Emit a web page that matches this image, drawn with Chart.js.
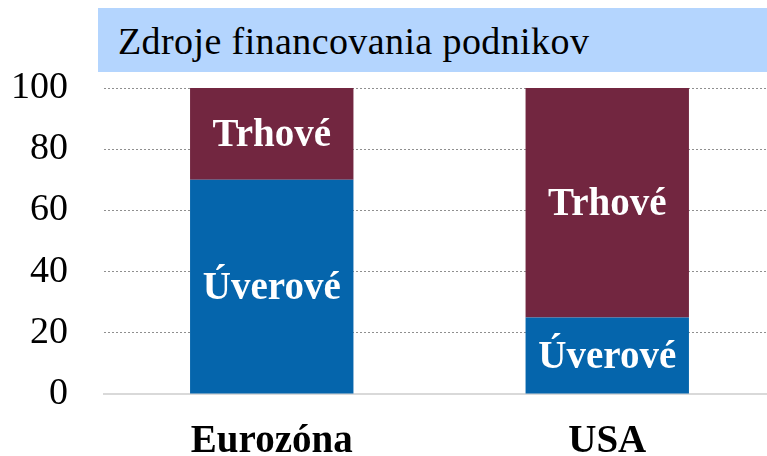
<!DOCTYPE html>
<html lang="sk">
<head>
<meta charset="utf-8">
<title>Zdroje financovania podnikov</title>
<script src="https://cdn.jsdelivr.net/npm/chart.js@4/dist/chart.umd.min.js"></script>
<style>
  html, body {
    margin: 0;
    padding: 0;
    background: #ffffff;
    overflow: hidden;
  }
  #wrap {
    position: relative;
    width: 767px;
    height: 456px;
    overflow: hidden;
  }
  #title-box {
    position: absolute;
    left: 98px;
    top: 8px;
    width: 669px;
    height: 64px;
    background: #b4d5fe;
    font-family: "Liberation Serif", serif;
    font-size: 38px;
    letter-spacing: 0.4px;
    line-height: 66px;
    padding-left: 20px;
    box-sizing: border-box;
    color: #000000;
    z-index: 2;
  }
  #my-chart {
    position: absolute;
    left: 0;
    top: 0;
  }
</style>
</head>
<body>
<div id="wrap">
  <div id="title-box">Zdroje financovania podnikov</div>
  <canvas id="my-chart" width="775" height="456"></canvas>
</div>
<script>
var categories = ["Eurozóna", "USA"];
var uveroveValues = [70, 25];
var trhoveValues = [30, 75];
var yTicks = [0, 20, 40, 60, 80, 100];

var serif = "'Liberation Serif', serif";

// writes the dataset name in the middle of each stacked segment
var segmentLabels = {
  id: "segmentLabels",
  afterDatasetsDraw: function (chart) {
    var ctx = chart.ctx;
    ctx.save();
    ctx.fillStyle = "#ffffff";
    ctx.font = "bold 39px " + serif;
    ctx.textAlign = "center";
    ctx.textBaseline = "middle";
    chart.data.datasets.forEach(function (ds, i) {
      var meta = chart.getDatasetMeta(i);
      meta.data.forEach(function (bar) {
        var midY = (bar.y + bar.base) / 2;
        ctx.fillText(ds.label, bar.x, midY + 2);
      });
    });
    ctx.restore();
  },
};

function renderChart() {
  var ctx = document.getElementById("my-chart").getContext("2d");
  var myChart = new Chart(ctx, {
    type: "bar",
    data: {
      labels: categories,
      datasets: [
        {
          label: "Úverové",
          data: uveroveValues,
          backgroundColor: "#0565ac",
          barPercentage: 0.487,
          categoryPercentage: 1,
        },
        {
          label: "Trhové",
          data: trhoveValues,
          backgroundColor: "#722640",
          barPercentage: 0.487,
          categoryPercentage: 1,
        },
      ],
    },
    options: {
      responsive: false,
      animation: false,
      devicePixelRatio: 1,
      layout: {
        padding: { top: 88, right: 0, bottom: 0, left: 0 },
      },
      plugins: {
        legend: { display: false },
        tooltip: { enabled: false },
        title: { display: false },
      },
      scales: {
        x: {
          stacked: true,
          offset: true,
          grid: { display: false, drawTicks: false },
          border: { display: true, color: "#d9d9d9", width: 2 },
          ticks: {
            color: "#000000",
            padding: 25,
            font: { family: serif, size: 39, weight: "bold" },
          },
          afterFit: function (scale) {
            scale.height = 62;
          },
        },
        y: {
          stacked: true,
          min: 0,
          max: 100,
          afterBuildTicks: function (scale) {
            scale.ticks = yTicks.map(function (v) {
              return { value: v };
            });
          },
          grid: {
            drawTicks: false,
            lineWidth: 1,
            color: function (c) {
              return c.tick && c.tick.value === 0 ? "rgba(0,0,0,0)" : "#8f8f8f";
            },
          },
          border: { display: false, dash: [2, 2] },
          ticks: {
            color: "#000000",
            padding: 36,
            font: { family: serif, size: 38 },
          },
          afterFit: function (scale) {
            scale.width = 104;
          },
        },
      },
    },
    plugins: [segmentLabels],
  });
}

renderChart();
</script>
</body>
</html>
